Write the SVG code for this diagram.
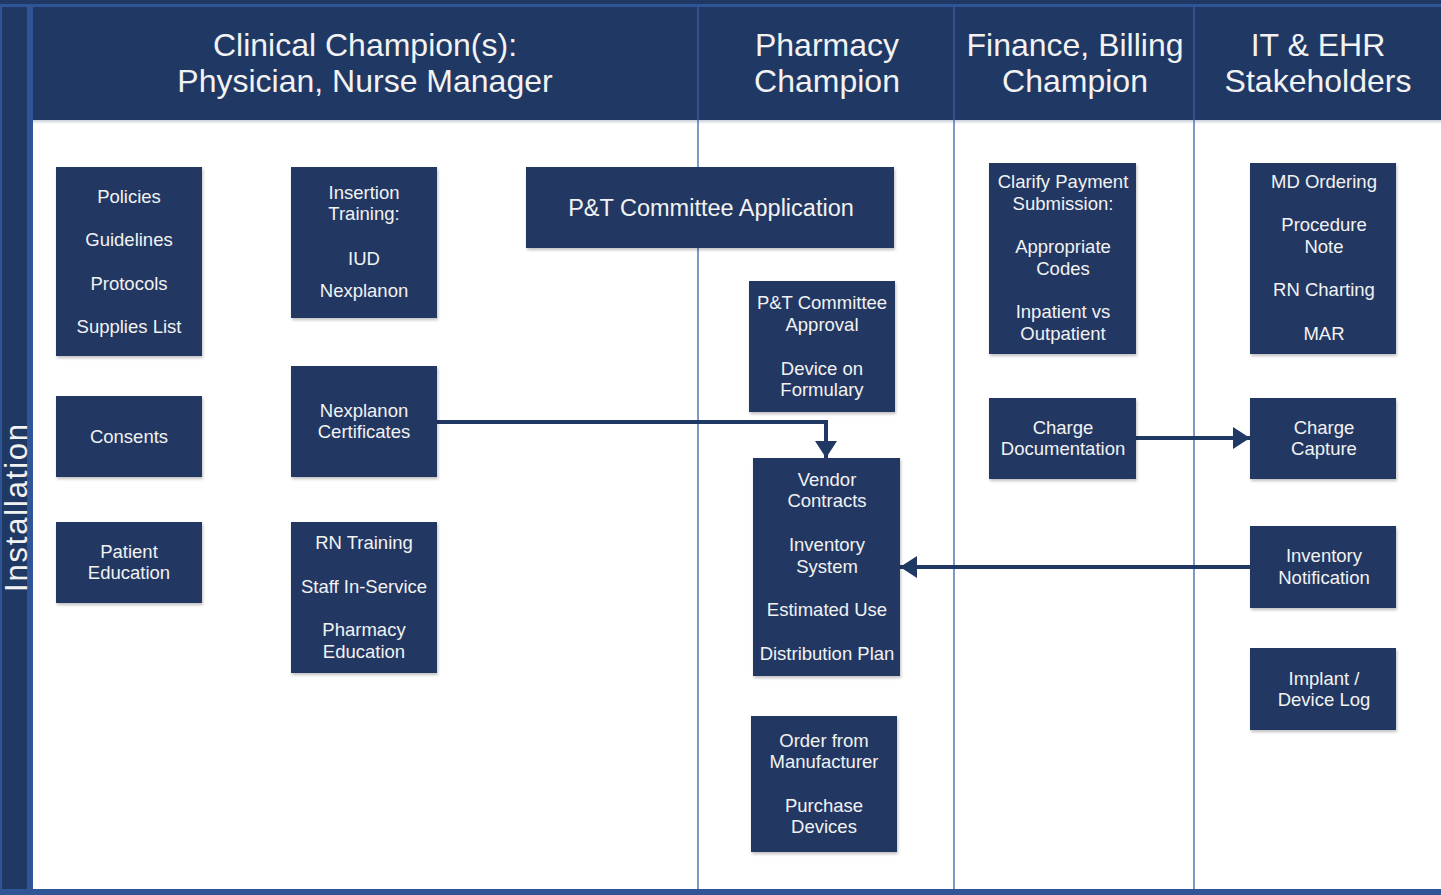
<svg xmlns="http://www.w3.org/2000/svg" width="1441" height="895" viewBox="0 0 1441 895">
  <style>
    .frame { fill: #2f5597; }
    .navy { fill: #203864; }
    .lane { stroke: #3a62a8; stroke-width: 1.3; }
    .hdr { fill: #f2f2f2; font-family: "Liberation Sans", Arial, sans-serif; font-size: 32px; text-anchor: middle; }
    .side { font-size: 31px; letter-spacing: 1.8px; }
    .box { fill: #203864; filter: url(#sh); }
    .t { fill: #f2f2f2; font-family: "Liberation Sans", Arial, sans-serif; font-size: 18.5px; text-anchor: middle; }
    .big { font-size: 23.5px; }
    .conn { stroke: #203864; stroke-width: 4; fill: none; }
  </style>
  <defs>
    <filter id="sh" x="-10%" y="-10%" width="130%" height="130%">
      <feDropShadow dx="1" dy="2" stdDeviation="1.5" flood-color="#000" flood-opacity="0.25"/>
    </filter>
    <linearGradient id="hs" x1="0" y1="0" x2="0" y2="1">
      <stop offset="0" stop-color="#203864" stop-opacity="0.25"/>
      <stop offset="1" stop-color="#203864" stop-opacity="0"/>
    </linearGradient>
    <marker id="ah" markerUnits="userSpaceOnUse" markerWidth="18" markerHeight="22" refX="17" refY="11" orient="auto">
      <path d="M0,0 L17,11 L0,22 Z" fill="#203864"/>
    </marker>
  </defs>

  <!-- outer frame -->
  <rect x="0" y="0" width="1441" height="895" class="frame"/>
  <rect x="0" y="0" width="1441" height="4" class="navy"/>
  <rect x="2" y="7" width="25" height="882" class="navy"/>
  <rect x="33" y="120" width="1408" height="769" fill="#ffffff"/>
  <rect x="33" y="120" width="1408" height="4" fill="url(#hs)"/>
  <rect x="33" y="7" width="1408" height="113" class="navy"/>

  <!-- swimlane dividers -->
  <g id="lanes">
    <line x1="698" y1="7" x2="698" y2="889" class="lane"/>
    <line x1="954" y1="7" x2="954" y2="889" class="lane"/>
    <line x1="1194" y1="7" x2="1194" y2="889" class="lane"/>
  </g>

  <!-- lane headers -->
  <g id="headers">
    <text class="hdr" x="365" y="56">Clinical Champion(s):</text>
    <text class="hdr" x="365" y="92">Physician, Nurse Manager</text>
    <text class="hdr" x="827" y="56">Pharmacy</text>
    <text class="hdr" x="827" y="92">Champion</text>
    <text class="hdr" x="1075" y="56">Finance, Billing</text>
    <text class="hdr" x="1075" y="92">Champion</text>
    <text class="hdr" x="1318" y="56">IT &amp; EHR</text>
    <text class="hdr" x="1318" y="92">Stakeholders</text>
    <text class="hdr side" transform="translate(27,507) rotate(-90)" x="0" y="0">Installation</text>
  </g>

  <!-- connectors -->
  <g id="connectors">
    <path class="conn" d="M437,422 H826 V458" marker-end="url(#ah)"/>
    <path class="conn" d="M1136,438 H1250" marker-end="url(#ah)"/>
    <path class="conn" d="M1250,567 H900" marker-end="url(#ah)"/>
  </g>

  <!-- clinical lane -->
  <g id="policies">
    <rect class="box" x="56" y="167" width="146" height="189"/>
    <text class="t" x="129" y="203">Policies</text>
    <text class="t" x="129" y="246">Guidelines</text>
    <text class="t" x="129" y="290">Protocols</text>
    <text class="t" x="129" y="333">Supplies List</text>
  </g>
  <g id="consents">
    <rect class="box" x="56" y="396" width="146" height="81"/>
    <text class="t" x="129" y="443">Consents</text>
  </g>
  <g id="patient-education">
    <rect class="box" x="56" y="522" width="146" height="81"/>
    <text class="t" x="129" y="558">Patient</text>
    <text class="t" x="129" y="579">Education</text>
  </g>
  <g id="insertion-training">
    <rect class="box" x="291" y="167" width="146" height="151"/>
    <text class="t" x="364" y="199">Insertion</text>
    <text class="t" x="364" y="220">Training:</text>
    <text class="t" x="364" y="265">IUD</text>
    <text class="t" x="364" y="297">Nexplanon</text>
  </g>
  <g id="nexplanon-certificates">
    <rect class="box" x="291" y="366" width="146" height="111"/>
    <text class="t" x="364" y="417">Nexplanon</text>
    <text class="t" x="364" y="438">Certificates</text>
  </g>
  <g id="rn-training">
    <rect class="box" x="291" y="522" width="146" height="151"/>
    <text class="t" x="364" y="549">RN Training</text>
    <text class="t" x="364" y="593">Staff In-Service</text>
    <text class="t" x="364" y="636">Pharmacy</text>
    <text class="t" x="364" y="658">Education</text>
  </g>
  <g id="pt-application">
    <rect class="box" x="526" y="167" width="368" height="81"/>
    <text class="t big" x="711" y="216">P&amp;T Committee Application</text>
  </g>

  <!-- pharmacy lane -->
  <g id="pt-approval">
    <rect class="box" x="749" y="281" width="146" height="131"/>
    <text class="t" x="822" y="309">P&amp;T Committee</text>
    <text class="t" x="822" y="331">Approval</text>
    <text class="t" x="822" y="375">Device on</text>
    <text class="t" x="822" y="396">Formulary</text>
  </g>
  <g id="vendor-contracts">
    <rect class="box" x="753" y="458" width="147" height="218"/>
    <text class="t" x="827" y="486">Vendor</text>
    <text class="t" x="827" y="507">Contracts</text>
    <text class="t" x="827" y="551">Inventory</text>
    <text class="t" x="827" y="573">System</text>
    <text class="t" x="827" y="616">Estimated Use</text>
    <text class="t" x="827" y="660">Distribution Plan</text>
  </g>
  <g id="order-manufacturer">
    <rect class="box" x="751" y="716" width="146" height="136"/>
    <text class="t" x="824" y="747">Order from</text>
    <text class="t" x="824" y="768">Manufacturer</text>
    <text class="t" x="824" y="812">Purchase</text>
    <text class="t" x="824" y="833">Devices</text>
  </g>

  <!-- finance lane -->
  <g id="clarify-payment">
    <rect class="box" x="989" y="163" width="147" height="191"/>
    <text class="t" x="1063" y="188">Clarify Payment</text>
    <text class="t" x="1063" y="210">Submission:</text>
    <text class="t" x="1063" y="253">Appropriate</text>
    <text class="t" x="1063" y="275">Codes</text>
    <text class="t" x="1063" y="318">Inpatient vs</text>
    <text class="t" x="1063" y="340">Outpatient</text>
  </g>
  <g id="charge-documentation">
    <rect class="box" x="989" y="398" width="147" height="81"/>
    <text class="t" x="1063" y="434">Charge</text>
    <text class="t" x="1063" y="455">Documentation</text>
  </g>

  <!-- IT / EHR lane -->
  <g id="md-ordering">
    <rect class="box" x="1250" y="163" width="146" height="191"/>
    <text class="t" x="1324" y="188">MD Ordering</text>
    <text class="t" x="1324" y="231">Procedure</text>
    <text class="t" x="1324" y="253">Note</text>
    <text class="t" x="1324" y="296">RN Charting</text>
    <text class="t" x="1324" y="340">MAR</text>
  </g>
  <g id="charge-capture">
    <rect class="box" x="1250" y="398" width="146" height="81"/>
    <text class="t" x="1324" y="434">Charge</text>
    <text class="t" x="1324" y="455">Capture</text>
  </g>
  <g id="inventory-notification">
    <rect class="box" x="1250" y="526" width="146" height="82"/>
    <text class="t" x="1324" y="562">Inventory</text>
    <text class="t" x="1324" y="584">Notification</text>
  </g>
  <g id="device-log">
    <rect class="box" x="1250" y="648" width="146" height="82"/>
    <text class="t" x="1324" y="685">Implant /</text>
    <text class="t" x="1324" y="706">Device Log</text>
  </g>
</svg>
